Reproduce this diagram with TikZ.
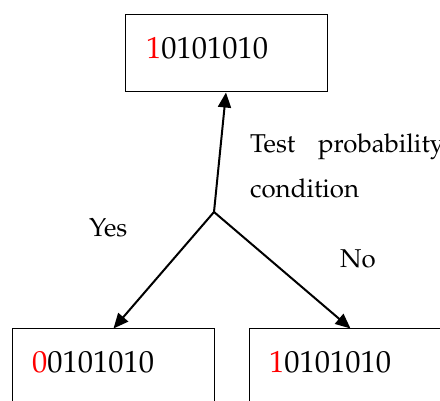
\documentclass[tikz,border=0pt]{standalone}
\usepackage[T1]{fontenc}
\usepackage{mathpazo}
\usetikzlibrary{arrows.meta}
\begin{document}
\begin{tikzpicture}[x=1pt,y=-1pt,
  bitbox/.style={draw=black,line width=1pt,minimum width=202pt,minimum height=77pt,inner sep=0pt},
  bits/.style={anchor=base west,inner sep=0pt,font=\fontsize{30.5}{36}\selectfont},
  lbl/.style={anchor=base west,inner sep=0pt,font=\fontsize{25.8}{30}\selectfont},
  link/.style={line width=2pt,-{Triangle[length=15pt,width=13pt]}}]
\useasboundingbox (0,0) rectangle (440,401);
\clip (0,0) rectangle (440,401);
% state boxes
\node[bitbox] (top) at (226,53.5) {};
\node[bitbox] (left) at (113.5,367.5) {};
\node[bitbox] (right) at (350.5,367.5) {};
\node[bits] (topbits) at (146,59) {\textcolor{red}{1}0101010};
\node[bits] (leftbits) at (32,373) {\textcolor{red}{0}0101010};
\node[bits] (rightbits) at (269,373) {\textcolor{red}{1}0101010};
% decision point and branches
\coordinate (fork) at (214,212);
\draw[link] (fork) -- (top.south);
\draw[link] (fork) -- (left.north);
\draw[link] (fork) -- (right.north);
% labels
\node[lbl] (test) at (250,153) {Test};
\node[lbl] (prob) at (318,153) {probability};
\node[lbl] (cond) at (250,198) {condition};
\node[lbl] (yes) at (89,237) {Yes};
\node[lbl] (no) at (340,268) {No};
\end{tikzpicture}
\end{document}
